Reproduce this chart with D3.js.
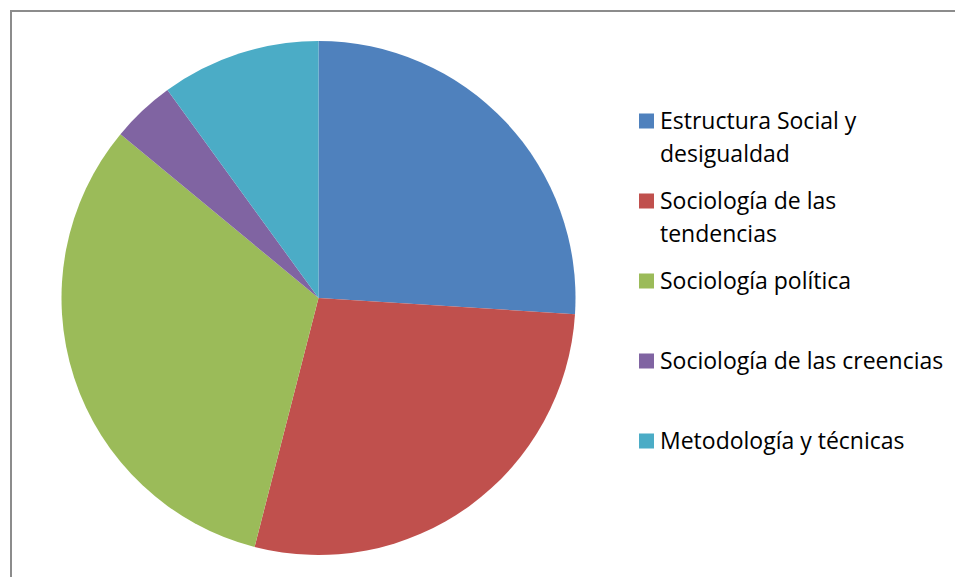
<!DOCTYPE html>
<html>
<head>
<meta charset="utf-8">
<script src="https://cdn.jsdelivr.net/npm/d3@7"></script>
<style>
  body { margin: 0; background: #fff; }
  svg { display: block; }
</style>
</head>
<body>
<svg id="chart"></svg>
<script>
// categorias y valores del grafico
const categories = [
  ["Estructura Social y", "desigualdad"],
  ["Sociología de las", "tendencias"],
  ["Sociología política"],
  ["Sociología de las creencias"],
  ["Metodología y técnicas"]
]
const values = [13, 14, 16, 2, 5]
const colors = ["#4F81BD", "#C0504D", "#9BBB59", "#8064A2", "#4BACC6"]

const width = 955
const height = 577

const svg = d3.select("svg#chart")
  .attr("width", width)
  .attr("height", height)

// marco gris
svg.append("rect")
  .attr("x", 11)
  .attr("y", 11)
  .attr("width", 960)
  .attr("height", 600)
  .attr("fill", "#fff")
  .attr("stroke", "#8c8c8c")
  .attr("stroke-width", 2)

const cx = 318.5, cy = 298, r = 257

const pie = d3.pie().sort(null).value(d => d)
const arc = d3.arc().innerRadius(0).outerRadius(r)

const color = d3.scaleOrdinal().domain(d3.range(values.length)).range(colors)

svg.append("g")
  .attr("transform", `translate(${cx},${cy})`)
  .selectAll("path")
  .data(pie(values))
  .join("path")
  .attr("d", arc)
  .attr("fill", (d, i) => color(i))

// leyenda
const legendY = d3.scalePoint().domain(d3.range(categories.length)).range([121, 441])

const legend = svg.append("g")
  .selectAll("g")
  .data(categories)
  .join("g")
  .attr("transform", (d, i) => `translate(639,${legendY(i)})`)

legend.append("rect")
  .attr("x", 0)
  .attr("y", -7.5)
  .attr("width", 15)
  .attr("height", 15)
  .attr("fill", (d, i) => color(i))

legend.append("text")
  .attr("font-family", "'Open Sans', sans-serif")
  .attr("font-size", 23)
  .attr("fill", "#000")
  .selectAll("tspan")
  .data(d => d)
  .join("tspan")
  .attr("x", 21)
  .attr("y", (d, i) => 8 + i * 32.5)
  .text(d => d)
</script>
</body>
</html>
